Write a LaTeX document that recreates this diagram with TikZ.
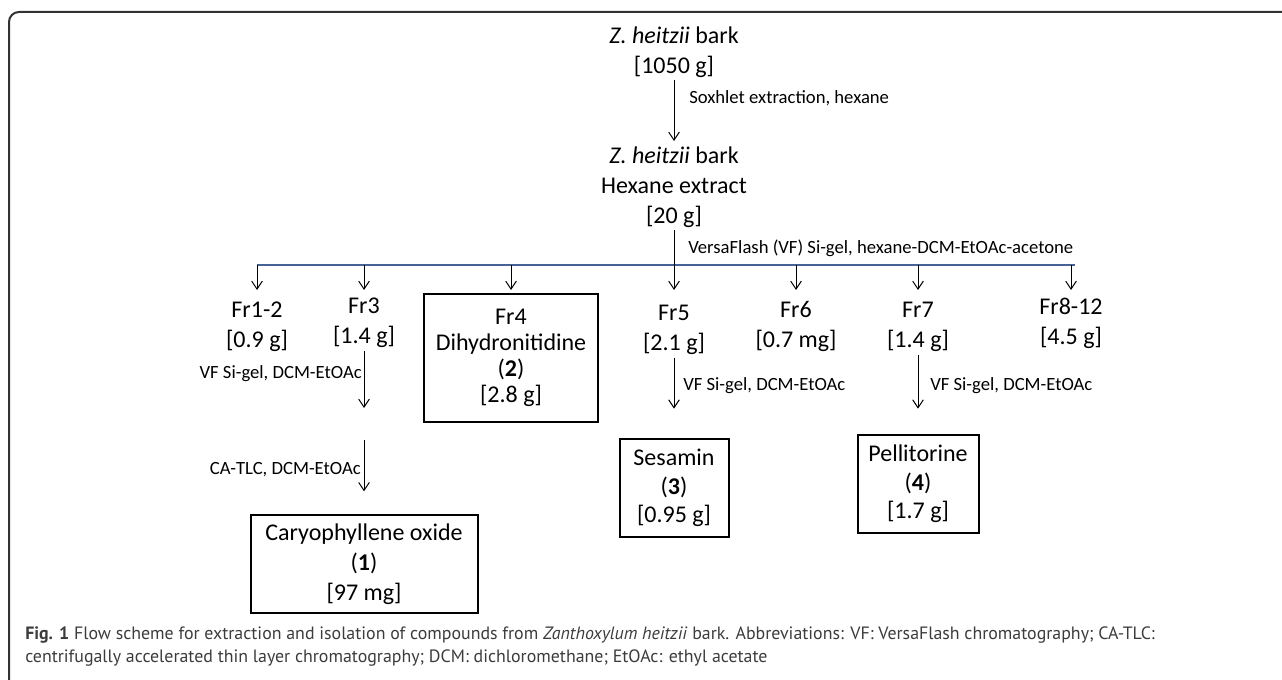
\documentclass[tikz,border=0pt]{standalone}
\usepackage{fontspec}
\setmainfont{Carlito}
\newfontfamily\capfont{PT Sans}
\usetikzlibrary{arrows.meta}
\definecolor{busblue}{RGB}{70,98,150}
\definecolor{capgray}{RGB}{60,60,60}
\definecolor{framegray}{RGB}{50,50,50}
\begin{document}
\begin{tikzpicture}[x=0.75pt,y=-0.75pt,
  big/.style={font=\fontsize{18}{22.5}\selectfont, align=center, inner sep=2pt},
  lbl/.style={font=\fontsize{14}{16}\selectfont, inner sep=0pt},
  box/.style={big, draw, line width=1.5pt},
  arr/.style={-{Straight Barb[length=6pt,width=8pt]}, line width=0.75pt}]
\useasboundingbox (0,0) rectangle (1282,680);
\begin{scope}
\clip (0,0) rectangle (1282,680);
\draw[framegray, line width=1.5pt, rounded corners=7.5pt] (9,720) -- (9,12) -- (1320,12);
\end{scope}
% top
\node[big] (src) at (674,52) {\textit{Z. heitzii} bark\\{[1050 g]}};
\node[big] (ext) at (674,187) {\textit{Z. heitzii} bark\\Hexane extract\\{[20 g]}};
\draw[arr, shorten >=2pt] (src.south) -- (ext.north);
\node[lbl, anchor=west] (lsox) at (689,98) {Soxhlet extraction, hexane};
% fractions
\node[big] (f12) at (257,327) {Fr1-2\\{[0.9 g]}};
\node[big] (f3) at (364,323) {Fr3\\{[1.4 g]}};
\node[box, minimum width=130.5pt, minimum height=96pt, font=\fontsize{18}{19.5}\selectfont] (f4) at (511,358) {Fr4\\Dihydronitidine\\(\textbf{2})\\{[2.8 g]}};
\node[big] (f5) at (674,330) {Fr5\\{[2.1 g]}};
\node[big] (f6) at (796,326) {Fr6\\{[0.7 mg]}};
\node[big] (f7) at (918,327) {Fr7\\{[1.4 g]}};
\node[big] (f812) at (1071,323) {Fr8-12\\{[4.5 g]}};
% bus
\coordinate (busy) at (0,265);
\coordinate (tipy) at (0,290);
\coordinate (busL) at (257,265);
\coordinate (busR) at (1075,265);
\draw[busblue, line width=1.2pt] (busL) -- (busR);
\foreach \n in {f12,f3,f4,f6,f7,f812} {\draw[arr] (\n |- busy) -- (\n |- tipy);}
\draw[arr] (ext.south) -- (f5 |- tipy);
\node[lbl, anchor=west] (lvf) at (688,248) {VersaFlash (VF) Si-gel, hexane-DCM-EtOAc-acetone};
% compounds
\node[box, minimum width=170.25pt, minimum height=73.5pt] (caryo) at (364,564) {Caryophyllene oxide\\(\textbf{1})\\{[97 mg]}};
\node[box, minimum width=81.75pt, minimum height=73.5pt, font=\fontsize{18}{21.5}\selectfont] (ses) at (674,488) {Sesamin\\(\textbf{3})\\{[0.95 g]}};
\node[box, minimum width=90.75pt, minimum height=73.5pt, font=\fontsize{18}{21.5}\selectfont] (pel) at (918,484) {Pellitorine\\(\textbf{4})\\{[1.7 g]}};
% Fr3 chain
\coordinate (c3end) at (364,408);
\coordinate (c3start) at (364,440);
\draw[arr] (f3.south) -- (c3end);
\node[lbl, anchor=east] (l3) at (362,374) {VF Si-gel, DCM-EtOAc};
\draw[arr, shorten >=17pt] (c3start) -- (caryo.north);
\node[lbl, anchor=east] (lca) at (361,470) {CA-TLC, DCM-EtOAc};
% Fr5, Fr7
\draw[arr, shorten >=22pt] (f5.south) -- (ses.north);
\node[lbl, anchor=west] (l5) at (683,386) {VF Si-gel, DCM-EtOAc};
\draw[arr, shorten >=19pt] (f7.south) -- (pel.north);
\node[lbl, anchor=west] (l7) at (930,386) {VF Si-gel, DCM-EtOAc};
% caption
\node[anchor=north west, inner sep=0pt, align=left, font=\capfont\fontsize{13.4}{17.25}\selectfont, text=capgray] (cap) at (25,627) {\textbf{Fig. 1} Flow scheme for extraction and isolation of compounds from \textit{Zanthoxylum heitzii} bark. Abbreviations: VF: VersaFlash chromatography; CA-TLC:\\centrifugally accelerated thin layer chromatography; DCM: dichloromethane; EtOAc: ethyl acetate};
\end{tikzpicture}
\end{document}
